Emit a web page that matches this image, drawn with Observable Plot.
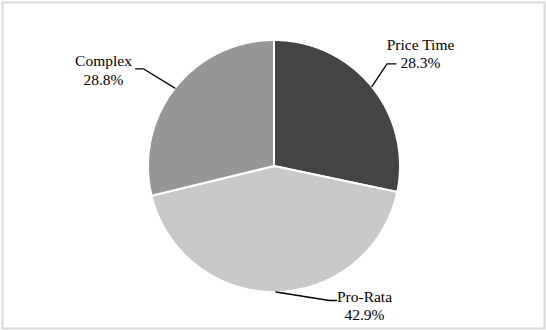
<!DOCTYPE html>
<html>
<head>
<meta charset="utf-8">
<script src="https://cdn.jsdelivr.net/npm/d3@7"></script>
<script src="https://cdn.jsdelivr.net/npm/@observablehq/plot@0.6"></script>
<style>
  html, body { margin: 0; padding: 0; background: #fff; }
  #chart svg { display: block; }
</style>
</head>
<body>
<div id="chart"></div>
<script>
// ---- data ----
const categories = ["Price Time", "Pro-Rata", "Complex"];
const shares = [28.3, 42.9, 28.8];
const shareLabels = ["28.3%", "42.9%", "28.8%"];

// ---- styles / layout ----
const colors = ["#444444", "#c8c8c8", "#969696"];
const W = 546, H = 330;
const cx = 273.5, cy = 165.5, R = 126;
// label centers (pixels) and leader-line elbow/end points (pixels)
const labelPos = [[420, 52.5], [364, 304.5], [103, 69]];
const leaderElbow = [[386.5, 63.3], [329, 300], [142.8, 68.3]];
const leaderEnd = [[395.5, 63.3], [336, 300], [135, 68.3]];

const pie = d3.pie().sort(null).value(d => d.value);
const arcs = pie(categories.map((c, i) => ({name: c, value: shares[i], label: shareLabels[i]})));

// polygon outline for each slice in unit coordinates (angle 0 = 12 o'clock, clockwise)
function slicePoints(a) {
  const pts = [{x: 0, y: 0}];
  const n = Math.max(2, Math.ceil((a.endAngle - a.startAngle) / 0.01));
  for (let k = 0; k <= n; k++) {
    const t = a.startAngle + (a.endAngle - a.startAngle) * k / n;
    pts.push({x: Math.sin(t), y: Math.cos(t)});
  }
  return pts;
}

const sliceMarks = arcs.map((a, i) =>
  Plot.line(slicePoints(a), {
    x: "x", y: "y", curve: "linear-closed",
    fill: colors[i], stroke: "#ffffff", strokeWidth: 2, strokeLinejoin: "round"
  })
);

// leader lines: rim at mid-angle -> elbow -> end
const toUnit = ([px, py]) => ({x: (px - cx) / R, y: (cy - py) / R});
const leaderMarks = arcs.map((a, i) => {
  const m = (a.startAngle + a.endAngle) / 2;
  const pts = [{x: Math.sin(m), y: Math.cos(m)}, toUnit(leaderElbow[i]), toUnit(leaderEnd[i])];
  return Plot.line(pts, {x: "x", y: "y", stroke: "#000", strokeWidth: 1.3});
});

const labelData = arcs.map((a, i) => ({
  text: a.data.name + "\n" + a.data.label,
  ...toUnit(labelPos[i])
}));

const chart = Plot.plot({
  width: W, height: H,
  margin: 2,
  x: {domain: [-1, 1], range: [cx - R, cx + R], axis: null},
  y: {domain: [-1, 1], range: [cy + R, cy - R], axis: null},
  style: {fontFamily: "'Liberation Serif', 'Times New Roman', serif", background: "#fff"},
  marks: [
    Plot.frame({stroke: "#d9d9d9", strokeWidth: 2}),
    ...sliceMarks,
    ...leaderMarks,
    Plot.text(labelData, {
      x: "x", y: "y", text: "text",
      fontSize: 15.5, fill: "#000", lineHeight: 1.2,
      textAnchor: "middle"
    })
  ]
});
document.getElementById("chart").appendChild(chart);
</script>
</body>
</html>
